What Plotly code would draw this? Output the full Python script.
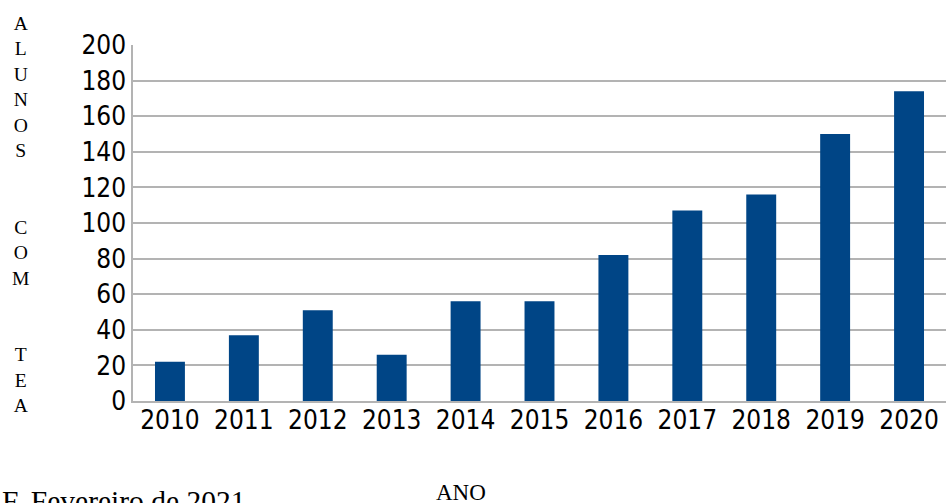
import plotly.graph_objects as go

anos = ["2010", "2011", "2012", "2013", "2014", "2015", "2016", "2017", "2018", "2019", "2020"]
alunos = [22, 37, 51, 26, 56, 56, 82, 107, 116, 150, 174]
y_ticks = [0, 20, 40, 60, 80, 100, 120, 140, 160, 180, 200]

W, H = 946, 503
L, R, T, B = 133, 0, 45, 102
pw, ph = W - L - R, H - T - B

def px_x(x):
    return (x - L) / pw

def px_y(y):
    return (H - B - y) / ph

tick_font = dict(family="DejaVu Sans Condensed, DejaVu Sans", size=26, color="#000000")
serif = "Liberation Serif, Times New Roman, serif"

fig = go.Figure(go.Bar(
    x=anos, y=alunos, marker=dict(color="#004586", line=dict(width=0)),
))

fig.update_layout(
    width=W, height=H,
    margin=dict(l=L, r=R, t=T, b=B),
    paper_bgcolor="white", plot_bgcolor="white",
    bargap=0.595, showlegend=False,
    xaxis=dict(type="category", tickfont=tick_font, showgrid=False,
               showline=True, linecolor="#b3b3b3", linewidth=1.5, ticks="", ticklabelstandoff=-5),
    yaxis=dict(range=[0, 200], tickvals=y_ticks, tickfont=tick_font,
               showgrid=True, gridcolor="#b3b3b3", gridwidth=1.5,
               showline=True, linecolor="#b3b3b3", linewidth=1.5,
               zeroline=False, ticks="", ticklabelstandoff=0),
)

ylabel = "A<br>L<br>U<br>N<br>O<br>S<br><br><br>C<br>O<br>M<br><br><br>T<br>E<br>A"
fig.add_annotation(text=ylabel, xref="paper", yref="paper", x=px_x(20), y=px_y(214),
                   xanchor="center", yanchor="middle", showarrow=False,
                   font=dict(family=serif, size=19.6, color="#000000"))
fig.add_annotation(text="ANO", xref="paper", yref="paper", x=px_x(461), y=px_y(492),
                   xanchor="center", yanchor="middle", showarrow=False,
                   font=dict(family=serif, size=23, color="#000000"))
fig.add_annotation(text="F. Fevereiro de 2021", xref="paper", yref="paper", x=px_x(0), y=px_y(501),
                   xanchor="left", yanchor="middle", showarrow=False,
                   font=dict(family=serif, size=29.5, color="#000000"))

fig.write_html("out.html")
